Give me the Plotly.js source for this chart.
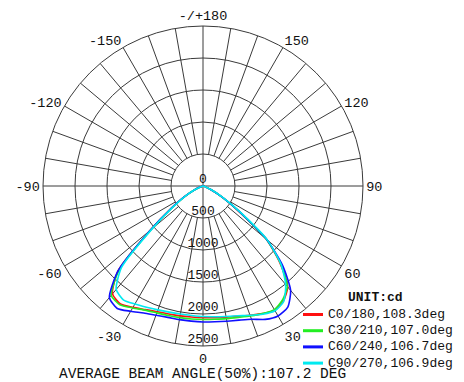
<!DOCTYPE html>
<html>
<head>
<meta charset="utf-8">
<script src="https://cdn.plot.ly/plotly-3.0.1.min.js"></script>
<style>html,body{margin:0;padding:0;background:#fff;}#chart{width:464px;height:382px;}</style>
</head>
<body>
<div id="chart"></div>
<script>
// Gamma angles (deg), 0 = straight down
var gamma = [-90,-85,-80,-75,-70,-65,-60,-55,-50,-45,-40,-35,-30,-25,-20,-15,-10,-5,0,5,10,15,20,25,30,35,40,45,50,55,60,65,70,75,80,85,90];

// Luminous intensity (cd) per C-plane
var c0_180 =   [0,0,0,10,50,160,340,600,1080,1880,2200,2250,2190,2130,2090,2070,2060,2055,2058,2065,2080,2105,2150,2200,2245,2190,2060,1700,1290,650,340,140,40,5,0,0,0];
var c30_210 =  [0,0,0,10,45,150,330,590,1060,1850,2230,2265,2200,2140,2110,2095,2088,2085,2085,2090,2105,2125,2160,2200,2230,2170,2050,1720,1290,680,340,140,40,5,0,0,0];
var c60_240 =  [0,0,0,10,50,160,340,600,1080,1880,2275,2336,2260,2190,2150,2125,2120,2120,2125,2130,2145,2170,2215,2300,2345,2310,2130,1760,1300,680,340,140,40,5,0,0,0];
var c90_270 =  [0,0,0,10,45,150,320,570,1030,1800,2110,2170,2130,2090,2060,2040,2030,2030,2040,2050,2070,2100,2150,2210,2250,2200,2010,1720,1310,700,360,150,45,5,0,0,0];

var seriesNames = ['C0/180,108.3deg','C30/210,107.0deg','C60/240,106.7deg','C90/270,106.9deg'];
var seriesColors = ['#ff1010','#22ee22','#1010ff','#00eaf0'];
var seriesValues = [c0_180, c30_210, c60_240, c90_270];

var radialTicks = [0,500,1000,1500,2000,2500];
var radialTickText = ['0','500','1000','1500','2000','2500'];
var angTickVals = [0,30,60,90,120,150,180,210,240,270,300,330];
var angTickText = ['0','30','60','90','120','150','-/+180','-150','-120','-90','-60','-30'];
var unitLabel = 'UNIT:cd';
var footer = 'AVERAGE BEAM ANGLE(50%):107.2 DEG';

var mono = 'Liberation Mono, Courier New, monospace';
var gridColor = '#3a3a3a';
var W = 464, H = 382;

// spoke grid: axes through centre, other spokes from 500 to 2500
var gTh = [], gR = [];
for (var a = 0; a < 360; a += 10) {
  var inner = (a % 90 === 0) ? 0 : 500;
  gTh.push(a, a, null); gR.push(inner, 2500, null);
}

var traces = [];
traces.push({type:'scatterpolar', mode:'lines', theta:gTh, r:gR, connectgaps:false,
  line:{color:gridColor, width:1}, showlegend:false, hoverinfo:'skip'});

for (var i = 0; i < seriesValues.length; i++) {
  traces.push({type:'scatterpolar', mode:'lines', theta:gamma, r:seriesValues[i],
    line:{color:seriesColors[i], width:1.6, shape:'spline', smoothing:0.6}, showlegend:false, name:seriesNames[i]});
}
// radial labels along the 0 direction
traces.push({type:'scatterpolar', mode:'text', theta:radialTicks.map(function(){return 0;}), r:radialTicks,
  text:radialTickText, textposition:'top center', cliponaxis:false,
  textfont:{family:mono, size:13, color:'#111'}, showlegend:false, hoverinfo:'skip'});

// manual legend (entries spaced tighter than Plotly's legend allows)
var legX0 = 303, legX1 = 323, legTextX = 326, legY0 = 314.5, legDy = 16.2;
var shapes = [], annotations = [];
for (var k = 0; k < seriesNames.length; k++) {
  var yy = legY0 + k * legDy;
  shapes.push({type:'line', xref:'paper', yref:'paper', x0:legX0/W, x1:legX1/W, y0:(H-yy)/H, y1:(H-yy)/H,
    line:{color:seriesColors[k], width:3}});
  annotations.push({xref:'paper', yref:'paper', x:legTextX/W, y:(H-yy)/H, xanchor:'left', yanchor:'middle',
    showarrow:false, text:seriesNames[k], font:{family:mono, size:13, color:'#111'}});
}
annotations.push({xref:'paper', yref:'paper', x:375/W, y:(H-297)/H, xanchor:'center', yanchor:'middle',
  showarrow:false, text:unitLabel, font:{family:mono, size:13, color:'#111', weight:'bold'}});
annotations.push({xref:'paper', yref:'paper', x:202/W, y:(H-374)/H, xanchor:'center', yanchor:'middle',
  showarrow:false, borderpad:0, text:footer, font:{family:mono, size:14.5, color:'#111'}});

var layout = {
  width:W, height:H,
  margin:{l:0,r:0,t:0,b:0, autoexpand:false},
  paper_bgcolor:'#fff',
  showlegend:false,
  polar:{
    domain:{x:[43/W, 363/W], y:[36/H, 356/H]},
    bgcolor:'#fff',
    radialaxis:{range:[0,2500], tickvals:[500,1000,1500,2000], showticklabels:false, ticks:'',
      showgrid:true, gridcolor:gridColor, gridwidth:1, showline:false},
    angularaxis:{rotation:270, direction:'counterclockwise', tickmode:'array', tickvals:angTickVals,
      ticktext:angTickText, showgrid:false, ticks:'', showline:true, linecolor:gridColor, linewidth:1,
      tickfont:{family:mono, size:13.5, color:'#111'}}
  },
  shapes:shapes,
  annotations:annotations
};

Plotly.newPlot('chart', traces, layout, {staticPlot:true});
</script>
</body>
</html>
